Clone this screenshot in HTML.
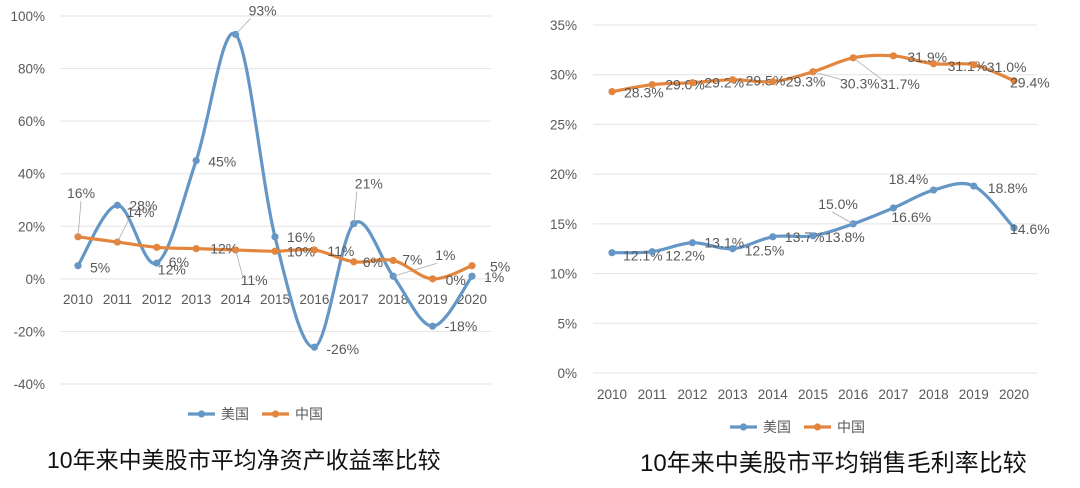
<!DOCTYPE html>
<html><head><meta charset="utf-8"><style>
html,body{margin:0;padding:0;background:#fff;width:1080px;height:488px;overflow:hidden}
svg{display:block}
text{font-family:"Liberation Sans","Noto Sans CJK SC",sans-serif}
</style></head><body>
<svg id="c" width="1080" height="488" viewBox="0 0 1080 488">
<g id="left"></g>
<g id="right"></g>
<text x="47" y="468" font-size="23" fill="#111">10年来中美股市平均净资产收益率比较</text>
<text x="640" y="471" font-size="24" fill="#111">10年来中美股市平均销售毛利率比较</text>
</svg>
<script>
const years = ["2010","2011","2012","2013","2014","2015","2016","2017","2018","2019","2020"];
// Left chart data (ROE %)
const roeUS = [5,28,6,45,93,16,-26,21,1,-18,1];
const roeCN = [16,14,12,11.5,11,10.5,11,6.5,7,0,5];
const roeUSLabels = ["5%","28%","6%","45%","93%","16%","-26%","21%","1%","-18%","1%"];
const roeCNLabels = ["16%","14%","12%","12%","11%","10%","11%","6%","7%","0%","5%"];
const roeTicks = [100,80,60,40,20,0,-20,-40];
// Right chart data (gross margin %)
const gmUS = [12.1,12.2,13.1,12.5,13.7,13.8,15.0,16.6,18.4,18.8,14.6];
const gmCN = [28.3,29.0,29.2,29.5,29.3,30.3,31.7,31.9,31.1,31.0,29.4];
const gmUSLabels = ["12.1%","12.2%","13.1%","12.5%","13.7%","13.8%","15.0%","16.6%","18.4%","18.8%","14.6%"];
const gmCNLabels = ["28.3%","29.0%","29.2%","29.5%","29.3%","30.3%","31.7%","31.9%","31.1%","31.0%","29.4%"];
const gmTicks = [35,30,25,20,15,10,5,0];

// label offsets (layout only); third element = draw leader line
const roeUSOff = [[12,2],[12,0],[12,-1],[12,1],[13,-24,1],[12,0],[12,2],[1,-40,1],[42,-21,1],[12,0],[12,1]];
const roeCNOff = [[-11,-44,1],[9,-30,1],[1,22],[14,0],[5,30,1],[12,0],[13,1],[9,0],[9,-1],[13,1],[18,1]];
const gmUSOff = [[11,3],[13,4],[12,0],[12,2],[12,0],[12,1],[-35,-20,1],[-2,9],[-45,-11],[14,2],[-4,1]];
const gmCNOff = [[12,1],[13,0],[12,0],[13,1],[13,0],[27,12,1],[27,26,1],[14,1],[14,2],[13,2],[-4,2]];

const NS="http://www.w3.org/2000/svg";
const BLUE="#6496c6", ORANGE="#e3853d", TXT="#595959";
function mk(tag,attrs,parent){const e=document.createElementNS(NS,tag);for(const k in attrs)e.setAttribute(k,attrs[k]);parent.appendChild(e);return e;}
function smooth(pts){
  let d="M"+pts[0][0]+","+pts[0][1];
  for(let i=0;i<pts.length-1;i++){
    const p0=pts[i-1]||pts[i],p1=pts[i],p2=pts[i+1],p3=pts[i+2]||p2;
    const c1=[p1[0]+(p2[0]-p0[0])/6,p1[1]+(p2[1]-p0[1])/6];
    const c2=[p2[0]-(p3[0]-p1[0])/6,p2[1]-(p3[1]-p1[1])/6];
    d+=" C"+c1[0]+","+c1[1]+" "+c2[0]+","+c2[1]+" "+p2[0]+","+p2[1];
  }
  return d;
}
function drawChart(g,cfg){
  const X=i=>cfg.x0+i*(cfg.x1-cfg.x0)/(years.length-1);
  const Y=v=>cfg.yTop+(cfg.vMax-v)*(cfg.yBot-cfg.yTop)/(cfg.vMax-cfg.vMin);
  cfg.ticks.forEach(t=>{
    const l=mk("line",{x1:cfg.gx0,x2:cfg.gx1,y1:Y(t),y2:Y(t),stroke:"#e3e3e3","stroke-width":1},g);
    
    
    const tx=mk("text",{x:cfg.tickX,y:Y(t)+5,"font-size":13.5,fill:TXT,"text-anchor":"end"},g);
    tx.textContent=t+"%";
    
    
  });
  years.forEach((yr,i)=>{
    const tx=mk("text",{x:X(i),y:cfg.xLabelY,"font-size":13.5,fill:TXT,"text-anchor":"middle"},g);
    tx.textContent=yr;
    
    
  });
  cfg.series.forEach(s=>{
    const pts=s.vals.map((v,i)=>[X(i),Y(v)]);
    const p=mk("path",{d:smooth(pts),fill:"none",stroke:s.color,"stroke-width":3.2,"stroke-linejoin":"round"},g);
    
    
    pts.forEach((pt,i)=>{
      const c=mk("circle",{cx:pt[0],cy:pt[1],r:3.6,fill:s.color},g);
      
      
      const o=s.off[i];
      if(o[2]){
        const ll=mk("line",{x1:pt[0],y1:pt[1],x2:pt[0]+o[0]+(o[0]<0?14:2),y2:pt[1]+o[1]+(o[1]<0?8:-4),stroke:"#aaaaaa","stroke-width":0.8},g);
        
        
      }
      const tx=mk("text",{x:pt[0]+o[0],y:pt[1]+o[1]+5,"font-size":14,fill:TXT},g);
      tx.textContent=s.labels[i];
      
      
    });
  });
  const ly=cfg.legendY; let lx=cfg.legendX;
  cfg.series.forEach(s=>{
    const l=mk("line",{x1:lx,x2:lx+27,y1:ly,y2:ly,stroke:s.color,"stroke-width":3.2},g);
    
    
    mk("circle",{cx:lx+13.5,cy:ly,r:3.6,fill:s.color},g);
    const tx=mk("text",{x:lx+33,y:ly+5,"font-size":14,fill:TXT},g);
    tx.textContent=s.legend;
    
    
    lx+=74;
  });
}
drawChart(document.getElementById("left"),{
  x0:78,x1:472,gx0:60,gx1:491,yTop:16,yBot:384,vMax:100,vMin:-40,ticks:roeTicks,tickX:45,xLabelY:304,
  legendX:188,legendY:414,
  series:[{name:"us",legend:"美国",color:BLUE,vals:roeUS,labels:roeUSLabels,off:roeUSOff},
          {name:"china",legend:"中国",color:ORANGE,vals:roeCN,labels:roeCNLabels,off:roeCNOff}]
});
drawChart(document.getElementById("right"),{
  x0:612,x1:1014,gx0:593,gx1:1037,yTop:25,yBot:373,vMax:35,vMin:0,ticks:gmTicks,tickX:577,xLabelY:399,
  legendX:730,legendY:427,
  series:[{name:"us",legend:"美国",color:BLUE,vals:gmUS,labels:gmUSLabels,off:gmUSOff},
          {name:"china",legend:"中国",color:ORANGE,vals:gmCN,labels:gmCNLabels,off:gmCNOff}]
});
</script>
</body></html>
